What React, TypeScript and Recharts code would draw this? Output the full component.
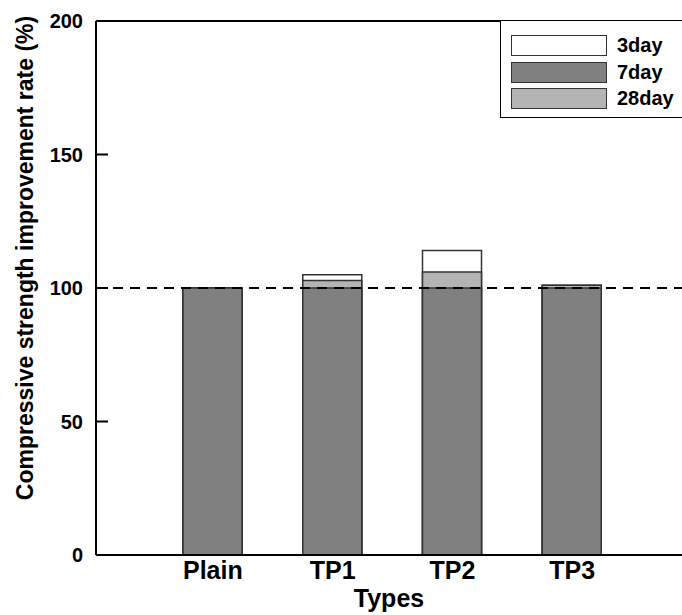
import { BarChart, Bar, XAxis, YAxis, ReferenceLine } from 'recharts'

const types = ['Plain', 'TP1', 'TP2', 'TP3']
const day3 = [100, 105, 114, 101]
const day7 = [100, 100, 100, 100]
const day28 = [100, 102.8, 106, 101]
const yTicks = [0, 50, 100, 150, 200]

const legendItems = [
  { name: '3day', fill: '#ffffff' },
  { name: '7day', fill: '#808080' },
  { name: '28day', fill: '#b4b4b4' },
]

const chartData = types.map((t, i) => ({
  name: t,
  d3: day3[i],
  d7: day7[i],
  d28: day28[i],
}))

const font = 'Arial, "Liberation Sans", sans-serif'

function YTick(props: any) {
  const { x, y, payload } = props
  return (
    <g>
      <line x1={x + 13} x2={x + 25} y1={y} y2={y} stroke="#000" strokeWidth={2} />
      <text x={x} y={y} dy={7} textAnchor="end" fontSize={20} fontWeight="bold" fill="#000" fontFamily={font}>
        {payload.value}
      </text>
    </g>
  )
}

function Legend3() {
  return (
    <div
      style={{
        position: 'absolute',
        left: 500,
        top: 20,
        width: 184,
        height: 98,
        border: '1.5px solid #000',
        background: '#fff',
        boxSizing: 'border-box',
        fontFamily: font,
      }}
    >
      {legendItems.map((it, i) => (
        <div key={it.name} style={{ position: 'absolute', left: 10, top: 14 + i * 26.5, height: 21, display: 'flex', alignItems: 'center' }}>
          <div style={{ width: 96, height: 21, background: it.fill, border: '1px solid #333', boxSizing: 'border-box' }} />
          <span style={{ marginLeft: 10, fontSize: 20, fontWeight: 'bold' }}>{it.name}</span>
        </div>
      ))}
    </div>
  )
}

export default function App() {
  return (
    <div style={{ position: 'absolute', left: 0, top: 0, width: 682, height: 615, background: '#fff' }}>
      <BarChart
        width={682}
        height={615}
        data={chartData}
        margin={{ top: 21, right: 0, left: 0, bottom: 0 }}
        barSize={59}
        barGap={-59}
      >
        <XAxis
          dataKey="name"
          height={60}
          padding={{ left: 57, right: 50 }}
          axisLine={{ stroke: '#000', strokeWidth: 2 }}
          tickLine={false}
          tick={{ fontSize: 25, fontWeight: 'bold', fill: '#000', fontFamily: font }}
          tickMargin={0}
          label={{ value: 'Types', position: 'insideBottom', offset: 8, fontSize: 25, fontWeight: 'bold', fill: '#000', fontFamily: font }}
        />
        <YAxis
          width={96}
          domain={[0, 200]}
          ticks={yTicks}
          interval={0}
          axisLine={{ stroke: '#000', strokeWidth: 2 }}
          tickLine={false}
          tickSize={0}
          tickMargin={13}
          tick={<YTick />}
          label={{
            value: 'Compressive strength improvement rate (%)',
            angle: -90,
            position: 'insideLeft',
            dx: 20,
            dy: -30,
            fontSize: 23,
            fontWeight: 'bold',
            fill: '#000',
            fontFamily: font,
            style: { textAnchor: 'middle' },
          }}
        />
        <Bar dataKey="d3" fill="#ffffff" stroke="#333" strokeWidth={1.5} isAnimationActive={false} />
        <Bar dataKey="d28" fill="#b4b4b4" stroke="#333" strokeWidth={1.5} isAnimationActive={false} />
        <Bar dataKey="d7" fill="#808080" stroke="#333" strokeWidth={1.5} isAnimationActive={false} />
        <ReferenceLine y={100} stroke="#000" strokeWidth={2} strokeDasharray="10 7" />
        <ReferenceLine y={200} stroke="#000" strokeWidth={2} />
      </BarChart>
      <Legend3 />
    </div>
  )
}
